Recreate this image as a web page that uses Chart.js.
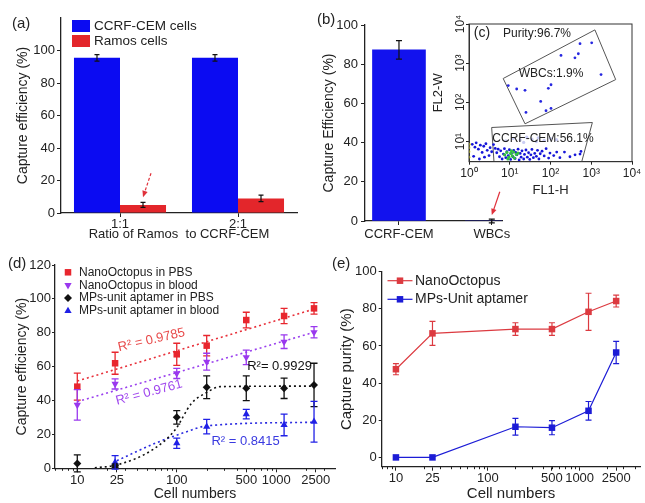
<!DOCTYPE html>
<html>
<head>
<meta charset="utf-8">
<script src="https://cdn.jsdelivr.net/npm/chart.js@4.4.1/dist/chart.umd.min.js"></script>
<style>
  body { margin: 0; background: #fff; }
  #fig { position: relative; width: 645px; height: 503px; overflow: hidden; font-family: "Liberation Sans", Arial, sans-serif; }
  #fig canvas { position: absolute; }
  .tag { position: absolute; font-size: 15px; color: #222; line-height: 17px; }
</style>
</head>
<body>
<div id="fig">
  <canvas id="chartA" width="320" height="250" style="left:0;top:0"></canvas>
  <canvas id="chartB" width="200" height="250" style="left:320px;top:0"></canvas>
  <canvas id="chartC" width="215" height="200" style="left:430px;top:0"></canvas>
  <canvas id="chartD" width="340" height="253" style="left:0;top:250px"></canvas>
  <canvas id="chartE" width="325" height="253" style="left:320px;top:250px"></canvas>
  <span class="tag" style="left:12px;top:14px">(a)</span>
  <span class="tag" style="left:317px;top:10px">(b)</span>
  <span class="tag" style="left:8px;top:254px">(d)</span>
  <span class="tag" style="left:332px;top:254px">(e)</span>
</div>
<script>
// (a) capture of CCRF-CEM vs Ramos
const ratioLabels = ['1:1', '2:1'];
const cemEff = [95.5, 95.5];
const cemErr = [2, 2];
const ramosEff = [5, 9];
const ramosErr = [1.5, 2];
const effTicks = [0, 20, 40, 60, 80, 100];

// (b) CCRF-CEM vs WBCs
const cellTypes = ['CCRF-CEM', 'WBCs'];
const typeEff = [87.3, 0];
const typeErr = [4.7, 1];

// (c) flow cytometry, [FL1-H, FL2-W]
const wbcGate = [[6.9, 407], [1230, 7080], [3980, 382], [23.7, 28.4], [6.9, 407]];
const cemGate = [[3.6, 22.9], [1065, 30.7], [584, 3.07], [4.1, 3.07], [3.6, 22.9]];
const wbcDots = [[530, 3140], [1025, 3310], [181, 1575], [398, 1375], [482, 1740], [1740, 513],
  [9.2, 268], [14.8, 220], [23.7, 203], [88.5, 229], [103, 282], [57.5, 106], [25, 55.5],
  [77.6, 61.2], [103, 70.2]];
const cemDots = [[1.2, 8.5], [1.4, 7.2], [1.5, 9.3], [1.7, 6.4], [1.9, 8.1], [2.1, 5.3], [2.3, 7.6],
  [2.6, 8.8], [2.8, 6.0], [3.1, 4.4], [3.3, 7.0], [3.6, 5.5], [1.3, 4.2], [1.8, 3.6], [2.4, 4.0],
  [4.0, 8.4], [4.4, 6.7], [4.8, 5.2], [5.2, 6.4], [5.6, 4.1], [6.0, 5.8], [6.5, 3.6], [7.0, 4.8],
  [7.4, 6.6], [8.0, 3.9], [8.5, 5.5], [9.2, 4.4], [9.8, 6.2], [10.5, 3.5], [11, 5.0], [12, 4.1],
  [12.5, 6.0], [13.5, 3.7], [14, 5.3], [15, 4.6], [16, 6.4], [17, 3.4], [18, 5.0], [19, 4.0],
  [20, 5.8], [22, 3.6], [23, 4.7], [25, 6.1], [27, 4.0], [29, 5.2], [31, 3.5], [33, 4.6], [35, 6.3],
  [38, 3.9], [41, 5.0], [45, 4.2], [48, 6.0], [52, 3.6], [56, 4.9], [62, 5.7], [70, 4.3], [78, 6.6],
  [90, 3.8], [97, 5.1], [120, 4.4], [142, 5.4], [170, 3.9], [220, 5.4], [300, 4.1], [400, 4.6],
  [530, 4.8], [560, 5.6]];
const coreDots = [[7.5, 4.6], [8.5, 5.3], [9.5, 4.0], [10.5, 5.0], [11.5, 4.3], [12.5, 5.4], [13, 3.8],
  [14.5, 4.7], [16, 5.1], [9, 3.6], [11, 5.8]];
const edgeDots = [[1.0, 4.0], [1.0, 5.5], [1.0, 7.0], [1.02, 8.5]];
const hazeDots = [[8, 10.5], [12, 12], [18, 11], [26, 13], [35, 11.5], [50, 12.5], [70, 10.8],
  [100, 12], [140, 11.2], [22, 9.5], [45, 10]];
const decadeTicks = [1, 10, 100, 1000, 10000];

// (d) capture efficiency vs cell number
const cellNums = [10, 24, 100, 200, 500, 1200, 2400];
const octoPbs = [48.2, 62, 67.3, 72.4, 87.5, 89.9, 94.4];
const octoPbsErr = [8, 6.5, 6.5, 6, 4.6, 4.5, 3.4];
const octoBlood = [37.4, 49.8, 56, 62.9, 65.5, 74.7, 80.3];
const octoBloodErr = [9, 3, 3, 5, 4.3, 4, 3.3];
const mpsPbs = [2.9, 1.5, 30.1, 47.8, 47.2, 47.2, 49.2];
const mpsPbsErr = [5, 1, 4, 6.7, 7.3, 6, 12.8];
const mpsBlood = [null, 3.5, 14.8, 24.6, 32, 25.6, 27.5];
const mpsBloodErr = [0, 4, 3, 4.3, 2.8, 6.4, 12];
const fitOctoPbs = [[10, 51.5], [2400, 94]];
const fitOctoBlood = [[10, 39.3], [2400, 80.3]];
const fitMpsPbs = [[15, 0.3], [25, 2], [58, 11.2], [96, 22.6], [141, 38.4], [198, 44.6], [273, 48.2], [2400, 48.5]];
const fitMpsBlood = [[25, 4.5], [61, 14.8], [126, 21.6], [198, 25], [2400, 27.2]];
const numTicks = [10, 25, 100, 500, 1000, 2500];
const capTicks = [0, 20, 40, 60, 80, 100, 120];

// (e) capture purity vs cell number
const purityNums = [10, 25, 200, 500, 1250, 2500];
const octoPurity = [47.5, 66.8, 69.1, 69.1, 78.4, 84.2];
const octoPurityErr = [3, 6.5, 3.4, 3.4, 10, 3.2];
const mpsPurity = [0, 0, 16.5, 16, 25.1, 56.5];
const mpsPurityErr = [0, 0, 4.5, 3.8, 5, 6];

const FONT = '"Liberation Sans", Arial, sans-serif';
Chart.defaults.font.family = FONT;
Chart.defaults.color = '#222';
Chart.defaults.animation = false;
Chart.defaults.plugins.legend.display = false;
Chart.defaults.plugins.tooltip.enabled = false;

const pts = arr => arr.map(p => ({ x: p[0], y: p[1] }));
const zip = (xs, ys) => xs.map((x, i) => ({ x: x, y: ys[i] }));
const sup = ['\u2070', '\u00b9', '\u00b2', '\u00b3', '\u2074'];
const powLabel = v => '10' + sup[Math.round(Math.log10(v))];

const errorBars = {
  id: 'errorBars',
  afterDatasetsDraw(chart) {
    const ctx = chart.ctx;
    chart.data.datasets.forEach((ds, i) => {
      if (!ds.errors) return;
      const meta = chart.getDatasetMeta(i);
      const ys = chart.scales[meta.yAxisID];
      ctx.save();
      ctx.strokeStyle = ds.errorColor || ds.borderColor || '#000';
      ctx.lineWidth = ds.errorWidth || 1.2;
      meta.data.forEach((el, j) => {
        const e = ds.errors[j];
        const d = ds.data[j];
        const v = d !== null && typeof d === 'object' ? d.y : d;
        if (!e || v === null || v === undefined) return;
        const x = el.x;
        const top = ys.getPixelForValue(v + e);
        const bot = ys.getPixelForValue(v - e);
        const c = (ds.capWidth || 6) / 2;
        ctx.beginPath();
        ctx.moveTo(x, top); ctx.lineTo(x, bot);
        ctx.moveTo(x - c, top); ctx.lineTo(x + c, top);
        ctx.moveTo(x - c, bot); ctx.lineTo(x + c, bot);
        ctx.stroke();
      });
      ctx.restore();
    });
  }
};

const figLegend = {
  id: 'figLegend',
  afterDraw(chart, args, o) {
    if (!o.rows) return;
    const ctx = chart.ctx;
    ctx.save();
    ctx.font = o.font;
    ctx.textBaseline = 'middle';
    o.rows.forEach((k, n) => {
      const ds = chart.data.datasets[k];
      const y = o.y + n * o.gap;
      if (o.kind === 'box') {
        ctx.fillStyle = ds.backgroundColor;
        ctx.fillRect(o.x - o.w / 2, y - o.h / 2, o.w, o.h);
      } else {
        if (o.kind === 'line') {
          ctx.strokeStyle = ds.borderColor;
          ctx.lineWidth = ds.borderWidth;
          ctx.beginPath();
          ctx.moveTo(o.x - o.w / 2, y);
          ctx.lineTo(o.x + o.w / 2, y);
          ctx.stroke();
        }
        ctx.fillStyle = ds.backgroundColor;
        Chart.helpers.drawPoint(ctx, { pointStyle: ds.pointStyle, radius: ds.pointRadius, rotation: ds.pointRotation || 0, borderWidth: 0 }, o.x, y);
      }
      ctx.fillStyle = o.color;
      ctx.fillText(ds.label, o.textX, y);
    });
    ctx.restore();
  }
};

// text notes, arrows, frames and rotated tick labels
const notes = {
  id: 'notes',
  afterDraw(chart, args, o) {
    const ctx = chart.ctx;
    const xs = chart.scales.x, ys = chart.scales.y;
    ctx.save();
    if (o.frame) {
      const a = chart.chartArea;
      ctx.strokeStyle = '#333';
      ctx.lineWidth = 1;
      ctx.strokeRect(a.left, a.top, a.right - a.left, a.bottom - a.top);
    }
    if (o.yTickX) {
      ctx.font = o.tickFont;
      ctx.fillStyle = '#222';
      ctx.textAlign = 'center';
      ctx.textBaseline = 'middle';
      ys.ticks.forEach(t => {
        ctx.save();
        ctx.translate(o.yTickX, ys.getPixelForValue(t.value));
        ctx.rotate(-Math.PI / 2);
        ctx.fillText(powLabel(t.value), 0, 0);
        ctx.restore();
      });
    }
    (o.items || []).forEach(n => {
      ctx.save();
      ctx.translate(xs.getPixelForValue(n.x), ys.getPixelForValue(n.y));
      ctx.rotate((n.rotate || 0) * Math.PI / 180);
      ctx.font = n.font || o.font;
      ctx.fillStyle = n.color || '#222';
      ctx.textAlign = 'center';
      ctx.textBaseline = 'middle';
      ctx.fillText(n.text, 0, 0);
      ctx.restore();
    });
    (o.arrows || []).forEach(ar => {
      const el = chart.getDatasetMeta(ar.ds).data[ar.i];
      const x1 = el.x + ar.dx, y1 = ys.getPixelForValue(ar.from);
      const x2 = el.x, y2 = ys.getPixelForValue(ar.to);
      const ang = Math.atan2(y2 - y1, x2 - x1);
      ctx.strokeStyle = '#e0303a';
      ctx.fillStyle = '#e0303a';
      ctx.lineWidth = 1.2;
      ctx.setLineDash(ar.dash ? [3, 2] : []);
      ctx.beginPath();
      ctx.moveTo(x1, y1);
      ctx.lineTo(x2 - 4 * Math.cos(ang), y2 - 4 * Math.sin(ang));
      ctx.stroke();
      ctx.setLineDash([]);
      ctx.beginPath();
      ctx.moveTo(x2, y2);
      ctx.lineTo(x2 - 7 * Math.cos(ang - 0.4), y2 - 7 * Math.sin(ang - 0.4));
      ctx.lineTo(x2 - 7 * Math.cos(ang + 0.4), y2 - 7 * Math.sin(ang + 0.4));
      ctx.closePath();
      ctx.fill();
    });
    ctx.restore();
  }
};

const minorTicks = {
  id: 'minorTicks',
  afterDraw(chart, args, o) {
    if (!o.len) return;
    const s = chart.scales.x, ctx = chart.ctx;
    ctx.save();
    ctx.strokeStyle = '#222';
    ctx.lineWidth = 1;
    ctx.beginPath();
    for (let p = 0; p <= 4; p++) {
      for (let m = 2; m <= 9; m++) {
        const v = m * Math.pow(10, p);
        if (v < s.min || v > s.max) continue;
        const x = Math.round(s.getPixelForValue(v)) + 0.5;
        ctx.moveTo(x, s.top);
        ctx.lineTo(x, s.top + o.len);
      }
    }
    ctx.stroke();
    ctx.restore();
  }
};

const axisLine = { color: '#222', width: 1.3 };
const plain = (len) => ({ drawOnChartArea: false, tickLength: len, color: '#222' });

// (a)
new Chart(document.getElementById('chartA'), {
  type: 'bar',
  data: {
    labels: ratioLabels,
    datasets: [
      { label: 'CCRF-CEM cells', data: cemEff, errors: cemErr, errorColor: '#111', capWidth: 5,
        backgroundColor: '#0b0bf2', categoryPercentage: 0.78, barPercentage: 1 },
      { label: 'Ramos cells', data: ramosEff, errors: ramosErr, errorColor: '#111', capWidth: 5,
        backgroundColor: '#e3262b', categoryPercentage: 0.78, barPercentage: 1 }
    ]
  },
  options: {
    responsive: false,
    layout: { padding: { top: 18, right: 23 } },
    scales: {
      x: {
        grid: Object.assign(plain(4), { offset: false }),
        border: axisLine,
        ticks: { padding: 0, font: { size: 13 } },
        title: { display: true, text: 'Ratio of Ramos  to CCRF-CEM', font: { size: 13 }, padding: { top: 0, bottom: 8 } },
        afterFit: s => { s.height = 37; }
      },
      y: {
        min: 0, max: 120,
        afterBuildTicks: s => { s.ticks = effTicks.map(v => ({ value: v })); },
        grid: plain(4),
        border: axisLine,
        ticks: { padding: 2, font: { size: 13 } },
        title: { display: true, text: 'Capture efficiency (%)', font: { size: 14 }, padding: { top: 14.5, bottom: 0 } },
        afterFit: s => { s.width = 61; }
      }
    },
    plugins: {
      figLegend: { rows: [0, 1], kind: 'box', x: 81, y: 26, gap: 15, w: 18, h: 12, textX: 94, font: '13.5px ' + FONT, color: '#222' },
      notes: { arrows: [{ ds: 1, i: 0, from: 24.5, to: 9.7, dx: 8, dash: true }] }
    }
  },
  plugins: [errorBars, figLegend, notes]
});

// (b)
new Chart(document.getElementById('chartB'), {
  type: 'bar',
  data: {
    datasets: [
      { label: 'Capture Efficiency', data: zip([1, 2], typeEff), errors: typeErr, errorColor: '#111', capWidth: 6,
        backgroundColor: '#1212ee', barThickness: 53 }
    ]
  },
  options: {
    responsive: false,
    layout: { padding: { top: 25, right: 18 } },
    scales: {
      x: {
        type: 'linear', min: 0.634, max: 2.11, offset: false,
        afterBuildTicks: s => { s.ticks = [{ value: 1 }, { value: 2 }]; },
        grid: Object.assign(plain(4), { offset: false }),
        border: axisLine,
        ticks: { padding: 2, font: { size: 13 }, maxRotation: 0, minRotation: 0, autoSkip: false,
          callback: v => cellTypes[Math.round(v) - 1] },
        afterFit: s => { s.height = 29; }
      },
      y: {
        min: 0, max: 100,
        ticks: { stepSize: 20, padding: 3, font: { size: 13 } },
        grid: plain(4),
        border: axisLine,
        title: { display: true, text: 'Capture Efficiency (%)', font: { size: 14 }, padding: { top: 0.6, bottom: 0 } },
        afterFit: s => { s.width = 45; }
      }
    },
    plugins: {
      notes: { arrows: [{ ds: 0, i: 1, from: 14.9, to: 3, dx: 8, dash: false }] }
    }
  },
  plugins: [errorBars, notes]
});

// (c)
const dotSet = (label, arr, color, r) => ({ label: label, data: pts(arr), pointRadius: r, backgroundColor: color, borderWidth: 0, showLine: false });
new Chart(document.getElementById('chartC'), {
  type: 'scatter',
  data: {
    datasets: [
      dotSet('WBCs', wbcDots, '#2626e0', 1.4),
      dotSet('core', coreDots, '#33c040', 1.6),
      dotSet('edge', edgeDots, '#d6d624', 1.4),
      dotSet('CCRF-CEM', cemDots, '#1616d8', 1.4),
      dotSet('haze', hazeDots, 'rgba(165,170,235,0.6)', 1.6),
      { label: 'WBC gate', data: pts(wbcGate), showLine: true, pointRadius: 0, borderColor: '#555', borderWidth: 1 },
      { label: 'CCRF-CEM gate', data: pts(cemGate), showLine: true, pointRadius: 0, borderColor: '#555', borderWidth: 1 }
    ]
  },
  options: {
    responsive: false,
    layout: { padding: { top: 24, right: 13 } },
    scales: {
      x: {
        type: 'logarithmic', min: 1, max: 10000,
        afterBuildTicks: s => { s.ticks = decadeTicks.map(v => ({ value: v })); },
        grid: plain(3),
        border: { color: '#333', width: 1 },
        ticks: { padding: 2, font: { size: 12 }, maxRotation: 0, autoSkip: false, callback: v => powLabel(v) },
        title: { display: true, text: 'FL1-H', font: { size: 13 }, padding: { top: 0, bottom: 2 } },
        afterFit: s => { s.height = 38.3; }
      },
      y: {
        type: 'logarithmic', min: 3.07, max: 10000,
        afterBuildTicks: s => { s.ticks = decadeTicks.slice(1).map(v => ({ value: v })); },
        grid: plain(3),
        border: { color: '#333', width: 1 },
        ticks: { callback: () => '' },
        title: { display: true, text: 'FL2-W', font: { size: 13 }, padding: { top: 0.2, bottom: 0 } },
        afterFit: s => { s.width = 39; }
      }
    },
    plugins: {
      notes: {
        frame: true, yTickX: 30.5, tickFont: '12px ' + FONT, font: '12px ' + FONT,
        items: [
          { text: '(c)', x: 2.08, y: 5750, font: '14px ' + FONT },
          { text: 'Purity:96.7%', x: 46.6, y: 5680 },
          { text: 'WBCs:1.9%', x: 103, y: 545 },
          { text: 'CCRF-CEM:56.1%', x: 65.5, y: 11.7 }
        ]
      }
    }
  },
  plugins: [notes]
});

// (d)
const markSet = (label, ys, errs, color, style, r, rot) => ({
  label: label, data: zip(cellNums, ys), errors: errs, capWidth: 7, errorWidth: 1.3,
  backgroundColor: color, borderColor: color, pointStyle: style, pointRadius: r, pointRotation: rot || 0,
  pointBorderWidth: 0, showLine: false, clip: false
});
const fitSet = (label, arr, color, mono) => ({
  label: label, data: pts(arr), showLine: true, pointRadius: 0, borderColor: color, borderWidth: 1.6,
  borderDash: [2, 3], cubicInterpolationMode: mono ? 'monotone' : 'default'
});
new Chart(document.getElementById('chartD'), {
  type: 'scatter',
  data: {
    datasets: [
      markSet('NanoOctopus in PBS', octoPbs, octoPbsErr, '#e8262e', 'rect', 4.6),
      markSet('NanoOctopus in blood', octoBlood, octoBloodErr, '#9a38ee', 'triangle', 4.2, 180),
      markSet('MPs-unit aptamer in PBS', mpsPbs, mpsPbsErr, '#111', 'rectRot', 4),
      markSet('MPs-unit aptamer in blood', mpsBlood, mpsBloodErr, '#2020e6', 'triangle', 4.2),
      fitSet('fit PBS', fitOctoPbs, '#e8303a', false),
      fitSet('fit blood', fitOctoBlood, '#9a40ee', false),
      fitSet('fit MPs PBS', fitMpsPbs, '#111', true),
      fitSet('fit MPs blood', fitMpsBlood, '#2a2ae0', true)
    ]
  },
  options: {
    responsive: false,
    layout: { padding: { top: 15, right: 5 } },
    scales: {
      x: {
        type: 'logarithmic', min: 5.97, max: 3900,
        afterBuildTicks: s => { s.ticks = numTicks.map(v => ({ value: v })); },
        grid: plain(4),
        border: axisLine,
        ticks: { padding: 0, font: { size: 13 }, maxRotation: 0, autoSkip: false, callback: v => String(v) },
        title: { display: true, text: 'Cell numbers', font: { size: 14 }, padding: { top: 0, bottom: 0 } },
        afterFit: s => { s.height = 34.7; }
      },
      y: {
        min: 0, max: 120,
        afterBuildTicks: s => { s.ticks = capTicks.map(v => ({ value: v })); },
        grid: plain(3),
        border: axisLine,
        ticks: { padding: 1, font: { size: 13 } },
        title: { display: true, text: 'Capture efficiency (%)', font: { size: 14 }, padding: { top: 13.6, bottom: 0 } },
        afterFit: s => { s.width = 55; }
      }
    },
    plugins: {
      minorTicks: { len: 2.5 },
      figLegend: { rows: [0, 1, 2, 3], kind: 'point', x: 68, y: 22.3, gap: 12.9, textX: 79, font: '12px ' + FONT, color: '#222' },
      notes: {
        font: '13px ' + FONT,
        items: [
          { text: 'R\u00b2 = 0.9785', x: 55.7, y: 75.7, rotate: -13, color: '#e84a4a' },
          { text: 'R\u00b2 = 0.9761', x: 52.7, y: 44.7, rotate: -15, color: '#a048ee' },
          { text: 'R\u00b2= 0.9929', x: 1080, y: 60.1, color: '#111' },
          { text: 'R\u00b2 = 0.8415', x: 492, y: 16.1, color: '#3a3ae0' }
        ]
      }
    }
  },
  plugins: [errorBars, figLegend, notes, minorTicks]
});

// (e)
const pureSet = (label, ys, errs, color) => ({
  label: label, data: zip(purityNums, ys), errors: errs, capWidth: 6, errorWidth: 1.2,
  backgroundColor: color, borderColor: color, borderWidth: 1.2, pointStyle: 'rect', pointRadius: 4.6,
  pointBorderWidth: 0, tension: 0, clip: false
});
new Chart(document.getElementById('chartE'), {
  type: 'line',
  data: {
    datasets: [
      pureSet('NanoOctopus', octoPurity, octoPurityErr, '#dc3a40'),
      pureSet('MPs-Unit aptamer', mpsPurity, mpsPurityErr, '#1c1cd6')
    ]
  },
  options: {
    responsive: false,
    layout: { padding: { top: 21.7, right: 3.3 } },
    scales: {
      x: {
        type: 'logarithmic', min: 7, max: 4590,
        afterBuildTicks: s => { s.ticks = numTicks.map(v => ({ value: v })); },
        grid: plain(4),
        border: axisLine,
        ticks: { padding: 0, font: { size: 13 }, maxRotation: 0, autoSkip: false, callback: v => String(v) },
        title: { display: true, text: 'Cell numbers', font: { size: 15 }, padding: { top: 0, bottom: 0 } },
        afterFit: s => { s.height = 36.3; }
      },
      y: {
        min: -5, max: 100,
        afterBuildTicks: s => { s.ticks = effTicks.map(v => ({ value: v })); },
        grid: plain(3),
        border: axisLine,
        ticks: { padding: 2, font: { size: 13 } },
        title: { display: true, text: 'Capture purity (%)', font: { size: 15 }, padding: { top: 18, bottom: 0 } },
        afterFit: s => { s.width = 61.7; }
      }
    },
    plugins: {
      minorTicks: { len: 2.5 },
      figLegend: { rows: [0, 1], kind: 'line', x: 80, y: 30.7, gap: 18.6, w: 25, textX: 95, font: '14px ' + FONT, color: '#222' }
    }
  },
  plugins: [errorBars, figLegend, minorTicks]
});
</script>
</body>
</html>
